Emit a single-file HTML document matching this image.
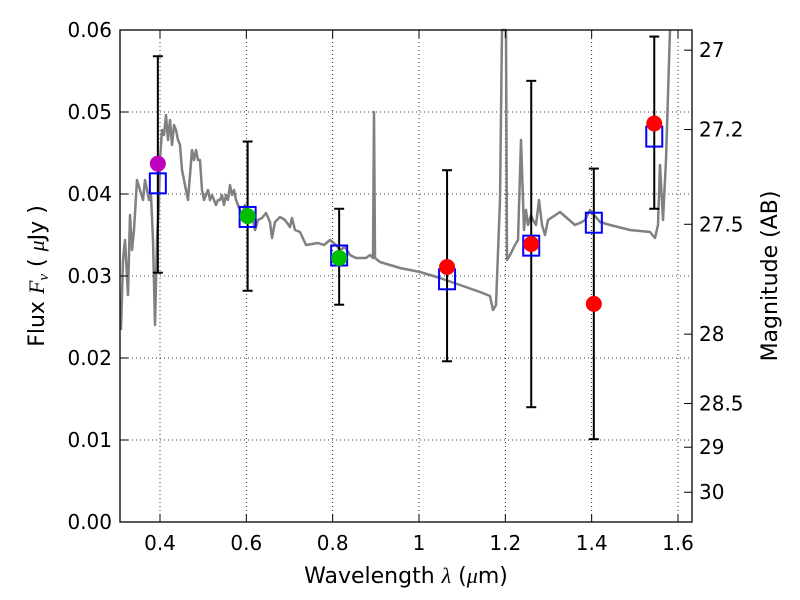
<!DOCTYPE html>
<html><head><meta charset="utf-8"><style>
body{margin:0;background:#fff}
svg{display:block;font-family:"DejaVu Sans","Liberation Sans",sans-serif}
</style></head><body>
<svg id="chart" width="800" height="600" xmlns="http://www.w3.org/2000/svg">
<rect width="800" height="600" fill="#fff"/>
<g id="grid"></g>
<g id="spec"></g>
<g id="marks"></g>
<rect x="120" y="30" width="572" height="492" fill="none" stroke="#000" stroke-width="1.3"/>
<g id="axes"></g>
<text x="406" y="583" font-size="22" text-anchor="middle">Wavelength  <tspan font-style="italic" font-family="Liberation Serif,serif">λ</tspan> (<tspan font-style="italic" font-family="Liberation Serif,serif">μ</tspan>m)</text>
<text transform="translate(44,276) rotate(-90)" font-size="22" text-anchor="middle">Flux  <tspan font-style="italic" font-family="Liberation Serif,serif">F<tspan font-size="15" dy="4">ν</tspan></tspan><tspan dy="-4">  ( </tspan><tspan font-style="italic" font-family="Liberation Serif,serif">μ</tspan>Jy )</text>
<text transform="translate(777,276) rotate(-90)" font-size="22" text-anchor="middle">Magnitude (AB)</text>
</svg>
<script>
const xTicks=[0.4,0.6,0.8,1.0,1.2,1.4,1.6];
const xTickLabels=["0.4","0.6","0.8","1","1.2","1.4","1.6"];
const yTicks=[0,0.01,0.02,0.03,0.04,0.05,0.06];
const yTickLabels=["0.00","0.01","0.02","0.03","0.04","0.05","0.06"];
const magTicks=[27,27.2,27.5,28,28.5,29,30];
const bandWave=[0.395,0.603,0.815,1.065,1.26,1.405,1.545];
const modelFlux=[0.0413,0.0372,0.0325,0.0296,0.0337,0.0365,0.047];
const obsFlux=[0.0437,0.0373,0.0322,0.0311,0.0339,0.0266,0.0486];
const obsColor=["#bf00bf","#00bf00","#00bf00","#ff0000","#ff0000","#ff0000","#ff0000"];
const errLow=[0.0304,0.0282,0.0265,0.0196,0.0140,0.0101,0.0382];
const errHigh=[0.0568,0.0464,0.0382,0.0429,0.0538,0.0431,0.0592];
const specPx=[[121,330],[123,260],[125,240],[128,295],[130,215],[132,250],[134,230],[137,180],[140,190],[143,200],[145,180],[147,190],[149,200],[151,195],[153,240],[155,325],[157,240],[159,200],[160,160],[162,130],[164,135],[166,115],[168,140],[170,120],[172,145],[174,125],[176,130],[178,140],[180,145],[182,170],[184,180],[186,190],[188,200],[190,175],[192,150],[194,160],[196,150],[198,160],[200,160],[202,190],[204,200],[206,195],[208,190],[210,200],[212,195],[214,200],[216,205],[218,200],[220,200],[222,195],[224,205],[226,195],[228,200],[230,185],[232,195],[234,190],[236,200],[238,205],[240,210],[242,215],[245,205],[248,213],[252,215],[255,230],[258,220],[262,218],[266,213],[270,222],[272,238],[275,222],[280,217],[285,220],[290,227],[292,218],[295,230],[300,232],[306,245],[312,244],[318,243],[324,245],[330,240],[336,245],[340,250],[345,247],[350,255],[356,258],[362,258],[366,258],[370,255],[373,258],[374,112],[375,258],[380,262],[390,265],[400,268],[420,272],[440,278],[460,285],[480,292],[490,296],[493,310],[496,305],[500,200],[502,30],[506,30],[507,260],[510,255],[515,245],[518,240],[521,140],[524,230],[526,210],[528,225],[531,215],[533,220],[536,225],[539,200],[542,225],[545,235],[548,220],[560,212],[575,225],[582,222],[585,220],[590,210],[600,222],[610,225],[630,230],[650,232],[655,238],[658,225],[660,165],[663,220],[666,160],[670,30]];
const specWave=specPx.map(p=>+(0.4+(p[0]-160)/431.67).toFixed(4));
const specFlux=specPx.map(p=>+((522-p[1])/8200).toFixed(5));

const X=w=>160+(w-0.4)*431.67;
const Y=f=>522-f*8200;
const NS="http://www.w3.org/2000/svg";
function mk(tag,attrs,parent){const e=document.createElementNS(NS,tag);for(const k in attrs)e.setAttribute(k,attrs[k]);parent.appendChild(e);return e;}
const grid=document.getElementById('grid'),axes=document.getElementById('axes'),spec=document.getElementById('spec'),marks=document.getElementById('marks');
xTicks.forEach((t,i)=>{const x=X(t);
 const g=mk('line',{x1:x,x2:x,y1:30,y2:522,stroke:'#000','stroke-width':0.8,'stroke-dasharray':'1,3'},grid);
 
 mk('line',{x1:x,x2:x,y1:522,y2:514,stroke:'#000'},axes);mk('line',{x1:x,x2:x,y1:30,y2:38,stroke:'#000'},axes);
 const tx=mk('text',{x:x,y:550,'font-size':20,'text-anchor':'middle'},axes);tx.textContent=xTickLabels[i];
 });
yTicks.forEach((t,i)=>{const y=Y(t);
 const g=mk('line',{x1:120,x2:692,y1:y,y2:y,stroke:'#000','stroke-width':0.8,'stroke-dasharray':'1,3'},grid);
 
 mk('line',{x1:120,x2:128,y1:y,y2:y,stroke:'#000'},axes);
 const tx=mk('text',{x:112,y:y+7,'font-size':20,'text-anchor':'end'},axes);tx.textContent=yTickLabels[i];
 });
magTicks.forEach(m=>{const y=Y(Math.pow(10,(23.9-m)/2.5));
 mk('line',{x1:684,x2:692,y1:y,y2:y,stroke:'#000'},axes);
 const tx=mk('text',{x:699,y:y+7,'font-size':20},axes);tx.textContent=String(m);
 });
const pts=specWave.map((w,i)=>X(w).toFixed(1)+','+Math.max(28,Y(specFlux[i])).toFixed(1)).join(' ');
const pl=mk('polyline',{points:pts,fill:'none',stroke:'#808080','stroke-width':2.5,'stroke-linejoin':'round'},spec);

bandWave.forEach((w,i)=>{const x=X(w);
 const eb=mk('g',{},marks);
 mk('line',{x1:x,x2:x,y1:Y(errLow[i]),y2:Y(errHigh[i]),stroke:'#000','stroke-width':2},eb);
 mk('line',{x1:x-5,x2:x+5,y1:Y(errLow[i]),y2:Y(errLow[i]),stroke:'#000','stroke-width':2},eb);
 mk('line',{x1:x-5,x2:x+5,y1:Y(errHigh[i]),y2:Y(errHigh[i]),stroke:'#000','stroke-width':2},eb);
 const sq=mk('rect',{x:x-8,y:Y(modelFlux[i])-10,width:16,height:20,fill:'none',stroke:'#0000ff','stroke-width':2},marks);
 
 const c=mk('circle',{cx:x,cy:Y(obsFlux[i]),r:8,fill:obsColor[i]},marks);
 });
</script>
</body></html>
